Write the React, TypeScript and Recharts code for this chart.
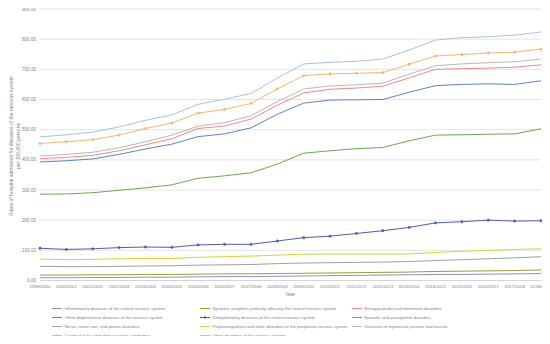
import { LineChart, Line, XAxis, YAxis, CartesianGrid } from "recharts";

const years = [
  "1999/2000", "2000/2001", "2001/2002", "2002/2003", "2003/2004",
  "2004/2005", "2005/2006", "2006/2007", "2007/2008", "2008/2009",
  "2009/2010", "2010/2011", "2011/2012", "2012/2013", "2013/2014",
  "2014/2015", "2015/2016", "2016/2017", "2017/2018", "2018/2019",
];

const inflammatory = [9, 9, 10, 10, 11, 11, 12, 13, 13, 14, 15, 16, 17, 18, 19, 20, 20, 21, 22, 23];
const systemicAtrophies = [18, 18, 19, 19, 20, 20, 21, 22, 22, 23, 24, 25, 26, 27, 28, 30, 31, 32, 33, 35];
const extrapyramidal = [404, 408, 415, 430, 450, 470, 504, 512, 535, 581, 622, 634, 638, 644, 672, 700, 702, 704, 707, 715];
const otherDegenerative = [393, 397, 403, 418, 436, 452, 477, 486, 506, 551, 588, 598, 599, 600, 624, 646, 650, 652, 650, 662];
const demyelinating = [107, 103, 105, 109, 111, 110, 118, 120, 120, 131, 142, 147, 156, 165, 176, 191, 195, 200, 197, 198];
const episodic = [286, 287, 291, 299, 307, 317, 339, 347, 357, 386, 422, 430, 437, 441, 463, 482, 483, 485, 486, 503];
const nerveRoot = [47, 46, 46, 47, 48, 49, 51, 52, 53, 56, 58, 59, 60, 61, 63, 66, 69, 72, 75, 79];
const polyneuropathies = [71, 69, 70, 72, 73, 73, 77, 79, 81, 84, 87, 88, 88, 88, 88, 93, 97, 100, 103, 105];
const myoneural = [413, 418, 425, 440, 460, 482, 512, 523, 546, 593, 635, 645, 649, 654, 684, 712, 718, 722, 725, 734];
const cerebralPalsy = [454, 460, 467, 482, 504, 522, 555, 567, 587, 635, 679, 685, 687, 689, 717, 744, 749, 754, 757, 767];
const otherDisorders = [476, 483, 492, 509, 531, 549, 584, 601, 620, 671, 718, 723, 727, 734, 764, 797, 805, 808, 813, 824];

const yTicks = [0, 100, 200, 300, 400, 500, 600, 700, 800, 900];

const seriesList = [
  { key: "inflammatory", name: "Inflammatory diseases of the central nervous system", values: inflammatory, color: "#8a8fd6", dot: false },
  { key: "systemicAtrophies", name: "Systemic atrophies primarily affecting the central nervous system", values: systemicAtrophies, color: "#a09a2e", dot: false },
  { key: "extrapyramidal", name: "Extrapyramidal and movement disorders", values: extrapyramidal, color: "#f28a80", dot: false },
  { key: "otherDegenerative", name: "Other degenerative diseases of the nervous system", values: otherDegenerative, color: "#5b83c9", dot: false },
  { key: "demyelinating", name: "Demyelinating diseases of the central nervous system", values: demyelinating, color: "#4c5db8", dot: true },
  { key: "episodic", name: "Episodic and paroxysmal disorders", values: episodic, color: "#6aa84f", dot: false },
  { key: "nerveRoot", name: "Nerve, nerve root, and plexus disorders", values: nerveRoot, color: "#a0a0a0", dot: false },
  { key: "polyneuropathies", name: "Polyneuropathies and other disorders of the peripheral nervous system", values: polyneuropathies, color: "#d6d42e", dot: false },
  { key: "myoneural", name: "Diseases of myoneural junction and muscle", values: myoneural, color: "#b8b8b8", dot: false },
  { key: "cerebralPalsy", name: "Cerebral palsy and other paralytic syndromes", values: cerebralPalsy, color: "#f7b56e", dot: true },
  { key: "otherDisorders", name: "Other disorders of the nervous system", values: otherDisorders, color: "#a3c4e3", dot: false },
];

const data = years.map((year, i) => {
  const row: Record<string, string | number> = { year };
  seriesList.forEach((s) => {
    row[s.key] = s.values[i];
  });
  return row;
});

const font = "'Liberation Sans', Arial, sans-serif";
const textColor = "#7f7f7f";
const legendCols = [52, 200, 352];
const legendRows = [308.5, 317.5, 326.5, 335.5];

export default function App() {
  return (
    <div
      style={{
        position: "relative",
        width: 550,
        height: 344,
        margin: -8,
        background: "#fff",
        boxSizing: "border-box",
        border: "1px solid #dcdcdc",
        fontFamily: font,
      }}
    >
      <div style={{ position: "absolute", left: -1, top: -1 }}>
        <LineChart
          width={550}
          height={344}
          data={data}
          margin={{ top: 9, right: 9, left: 0, bottom: 43.5 }}
        >
          <CartesianGrid vertical={false} stroke="#e4e4e4" />
          <XAxis
            dataKey="year"
            interval={0}
            height={20}
            tickLine={false}
            tickSize={0}
            tickMargin={4}
            axisLine={{ stroke: "#d4d4d4" }}
            tick={{ fontSize: 4.4, fill: textColor, fontFamily: font }}
          />
          <YAxis
            width={40}
            domain={[0, 900]}
            ticks={yTicks}
            axisLine={false}
            tickLine={false}
            tickSize={0}
            tickMargin={4}
            tickFormatter={(v: number) => v.toFixed(2)}
            tick={{ fontSize: 4.6, fill: textColor, fontFamily: font }}
          />
          {seriesList.map((s) => (
            <Line
              key={s.key}
              dataKey={s.key}
              name={s.name}
              stroke={s.color}
              strokeWidth={1}
              dot={s.dot ? { r: 1.2, fill: s.color, stroke: s.color, strokeWidth: 0.5 } : false}
              isAnimationActive={false}
            />
          ))}
        </LineChart>
      </div>
      <svg
        width={550}
        height={344}
        style={{ position: "absolute", left: -1, top: -1, pointerEvents: "none" }}
      >
        <text
          transform="translate(13,146) rotate(-90)"
          textAnchor="middle"
          fontSize={5}
          fill={textColor}
          fontFamily={font}
        >
          <tspan x={0} dy={0}>Rates of hospital admission for diseases of the nervous system</tspan>
          <tspan x={0} dy={7.2}>per 100,000 persons</tspan>
        </text>
        <text x={290} y={296} textAnchor="middle" fontSize={5} fill={textColor} fontFamily={font}>
          Year
        </text>
        {seriesList.map((s, i) => {
          const x = legendCols[i % 3];
          const y = legendRows[Math.floor(i / 3)];
          return (
            <g key={s.key}>
              <line x1={x} x2={x + 10} y1={y} y2={y} stroke={s.color} strokeWidth={1} />
              {s.dot && <circle cx={x + 5} cy={y} r={1.2} fill={s.color} />}
              <text x={x + 12.5} y={y + 1.6} fontSize={4.3} fill={textColor} fontFamily={font}>
                {s.name}
              </text>
            </g>
          );
        })}
      </svg>
    </div>
  );
}
